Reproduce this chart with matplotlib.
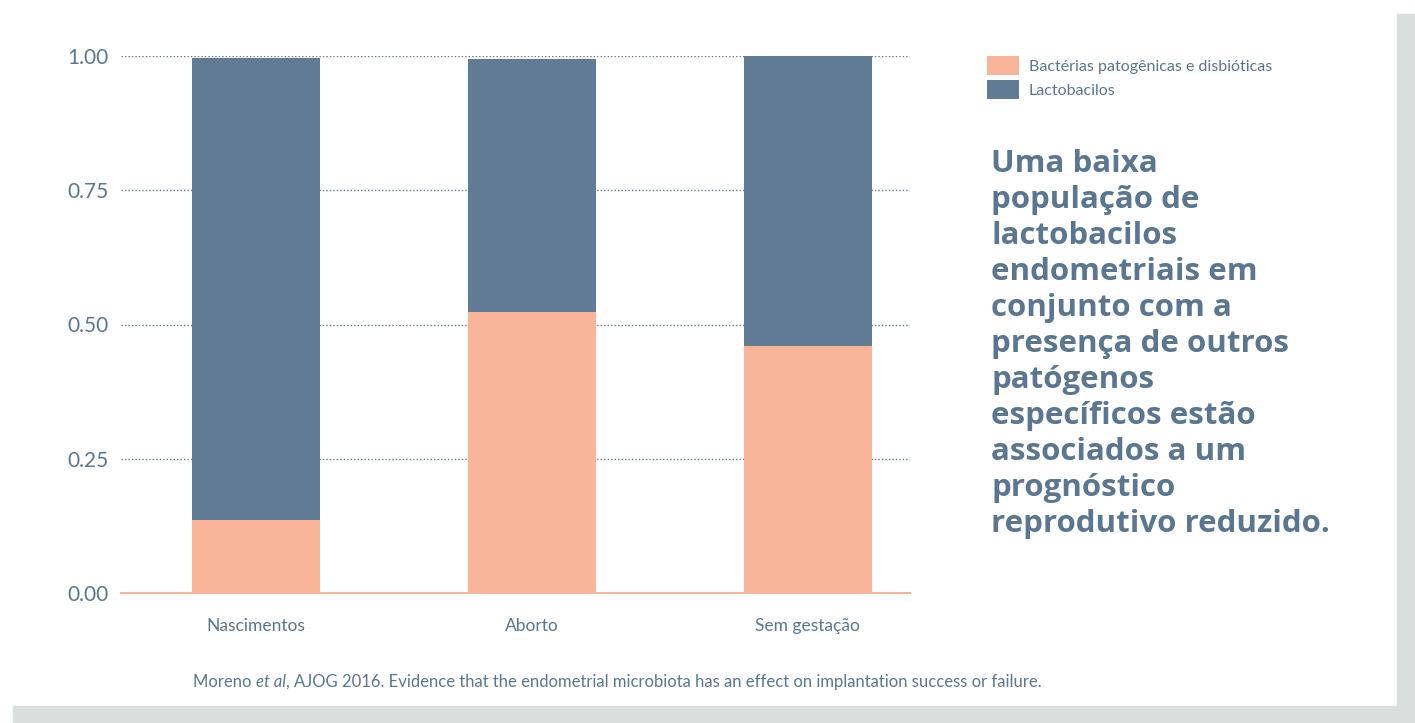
import matplotlib.pyplot as plt
from matplotlib.patches import Rectangle

categories = ['Nascimentos', 'Aborto', 'Sem gestação']
patogenicas = [0.136, 0.523, 0.460]
lactobacilos = [0.860, 0.471, 0.542]
y_ticks = [0.0, 0.25, 0.5, 0.75, 1.0]
y_tick_labels = ['0.00', '0.25', '0.50', '0.75', '1.00']

blue = '#607b93'
pink = '#f9b59a'
text_col = '#5a7690'
border = '#d9dfdc'

plt.rcParams['font.family'] = ['Lato', 'DejaVu Sans']

fig = plt.figure(figsize=(14.15, 7.23), dpi=100)
fig.patch.set_facecolor('white')

# gray frame at right and bottom
fig.patches.append(Rectangle((1397/1415, 0), 18/1415, 1 - 14/723, transform=fig.transFigure,
                             color=border, zorder=0))
fig.patches.append(Rectangle((13/1415, 0), 1 - 13/1415, 17/723, transform=fig.transFigure,
                             color=border, zorder=0))

ax = fig.add_axes([121/1415, 1 - 593/723, (910-121)/1415, (593-56)/723])
x = range(len(categories))
ax.bar(x, patogenicas, width=0.464, color=pink, label='Bactérias patogênicas e disbióticas', zorder=3)
ax.bar(x, lactobacilos, width=0.464, bottom=patogenicas, color=blue, label='Lactobacilos', zorder=3)

ax.set_xlim(-0.489, 2.37)
ax.set_ylim(0, 1.0)
ax.set_yticks(y_ticks)
ax.set_yticklabels(y_tick_labels, fontsize=15, color=text_col)
ax.set_xticks(list(x))
ax.set_xticklabels(categories, fontsize=12.5, color=text_col)
ax.tick_params(axis='both', length=0)
ax.tick_params(axis='y', pad=9)
ax.tick_params(axis='x', pad=18)
ax.yaxis.grid(True, linestyle=(0, (1, 1.5)), color=blue, linewidth=1.0, zorder=0)
for s in ['top', 'right', 'left']:
    ax.spines[s].set_visible(False)
ax.spines['bottom'].set_color(pink)
ax.spines['bottom'].set_linewidth(1.5)

leg = fig.legend(loc='upper left', bbox_to_anchor=(973/1415, 1 - 42/723), frameon=False,
                 fontsize=11.5, handlelength=2.0, handleheight=1.4, labelcolor=text_col,
                 handletextpad=0.6, labelspacing=0.35)

fig.text(991/1415, 1 - 149/723,
         'Uma baixa\npopulação de\nlactobacilos\nendometriais em\nconjunto com a\n'
         'presença de outros\npatógenos\nespecíficos estão\nassociados a um\n'
         'prognóstico\nreprodutivo reduzido.',
         fontsize=22.5, fontweight='bold', color=text_col, va='top', ha='left', linespacing=1.26,
         family=['Open Sans', 'DejaVu Sans'])

t1 = fig.text(193/1415, 1 - 690/723, 'Moreno ', fontsize=12, color=text_col, va='bottom')
t2 = ax.annotate('et al', xy=(1, 0), xycoords=t1, fontsize=12, color=text_col, style='italic',
                 va='bottom', annotation_clip=False)
t3 = ax.annotate(', AJOG 2016. Evidence that the endometrial microbiota has an effect on implantation success or failure.',
                 xy=(1, 0), xycoords=t2, fontsize=12, color=text_col, va='bottom', annotation_clip=False)

fig.savefig('out.png', dpi=100)
